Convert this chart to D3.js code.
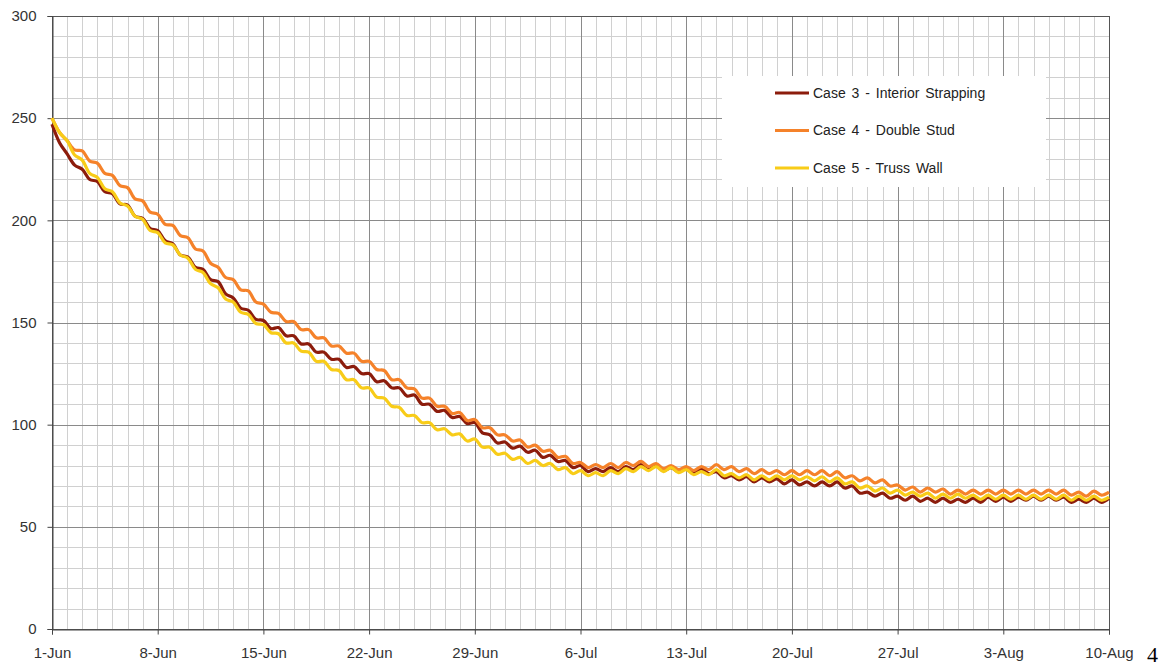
<!DOCTYPE html>
<html>
<head>
<meta charset="utf-8">
<title>Cases 3-5</title>
<script src="https://d3js.org/d3.v7.min.js"></script>
<style>
  body { margin: 0; background: #fff; }
  svg { display: block; font-family: "Liberation Sans", Arial, sans-serif; }
</style>
</head>
<body>
<script>
// values read every 12 hours, 1-Jun 00:00 to 10-Aug 00:00
var case3 = [
  247, 238, 232.5, 227, 225, 220, 219, 214, 213, 208,
  207.5, 202, 201, 196, 195, 190, 188.5, 183, 182, 177,
  176, 171, 170, 164, 162, 157, 156, 151.5, 151, 147,
  147.5, 143.5, 143.5, 139.5, 139.5, 135.5, 135.5, 132, 132, 128,
  128.5, 125, 125, 121, 121.5, 118, 118, 114, 114.5, 110,
  110, 106.5, 107, 103.5, 104, 100.5, 101, 96, 95, 91,
  91.5, 88.5, 89.5, 86.5, 87.5, 84, 85, 82, 82.5, 79,
  80, 77, 78.5, 77, 79, 77, 79.5, 78, 80.5, 78,
  80, 77.5, 79, 77, 78.5, 76.5, 78.5, 76, 77, 74,
  75, 73, 74.5, 72, 74, 72, 73.5, 71, 73, 70.5,
  72, 70, 72, 70, 72, 69, 70, 66.5, 67, 65,
  66.5, 64, 65, 63, 65, 62.5, 64, 62, 64, 62,
  63.5, 62, 64, 62, 64.5, 62.5, 64.5, 62.5, 64.5, 63,
  65, 63, 65, 63, 64.5, 62, 63.5, 62, 64, 62,
  64
];
var case4 = [
  250, 243, 239, 234.5, 234, 229, 228, 223, 222, 217,
  216, 210.5, 209.5, 204, 203, 198, 197.5, 192.5, 191.5, 186,
  185, 179, 177, 172, 171, 166, 165.5, 160, 159, 155,
  154.5, 150.5, 150.5, 146.5, 146.5, 142.5, 142.5, 138.5, 138.5, 135,
  135, 131, 131, 127, 126.5, 122, 122, 118, 117.5, 113,
  113, 109, 109, 105.5, 106, 102, 102.5, 98.5, 98.5, 95,
  95, 92, 92.5, 89, 90, 87, 87.5, 84, 84.5, 81,
  81.5, 79, 80.5, 79, 81, 79, 81.5, 80, 82, 79.5,
  81, 78.5, 80, 78, 79.5, 77.5, 79.5, 78, 80.5, 78,
  79.5, 77, 78.5, 76, 78, 76, 77.5, 75.5, 77.5, 75.5,
  77.5, 75.5, 77.5, 75, 77, 74, 75, 72.5, 74, 71.5,
  73, 70, 70.5, 68, 69.5, 67, 69, 67, 68.5, 66,
  68, 66, 68, 66, 68, 66, 68, 66, 68, 66,
  68, 66, 68, 66, 68, 65.5, 67, 65, 67.5, 65.5,
  67
];
var case5 = [
  250, 243, 239, 232, 229.5, 223, 221, 215.5, 214, 208.5,
  207, 202, 200.5, 195, 194, 189, 188, 183, 181.5, 176,
  174.5, 169, 167, 161.5, 160, 155, 154, 149.5, 149, 145,
  144.5, 140, 140, 136, 135.5, 131, 131, 127, 126.5, 122,
  122, 118, 118, 113.5, 113, 109, 108.5, 104.5, 104.5, 101,
  101, 97.5, 98, 95, 95.5, 92, 93, 89, 89, 85.5,
  86, 83, 84, 81, 82.5, 80, 81, 78, 79, 76,
  77.5, 75, 76.5, 75, 77.5, 76, 78.5, 77, 79.5, 77.5,
  79.5, 77, 79, 76.5, 78, 75.5, 77, 75.5, 78, 75,
  76, 74, 75.5, 73, 75, 73, 75, 73, 75, 73,
  74.5, 72.5, 74.5, 72, 74, 71, 72, 69, 70, 67.5,
  69, 66.5, 68, 65.5, 67, 65, 66.5, 64, 66, 64,
  66, 64, 65.5, 63.5, 65.5, 63.5, 65.5, 63.5, 65.5, 63.5,
  65.5, 63.5, 65.5, 63.5, 65.5, 63, 65, 63, 65, 63,
  64.5
];

var seriesNames = ["Case 3 - Interior Strapping", "Case 4 - Double Stud", "Case 5 - Truss Wall"];
var xTickLabels = ["1-Jun", "8-Jun", "15-Jun", "22-Jun", "29-Jun", "6-Jul", "13-Jul", "20-Jul", "27-Jul", "3-Aug", "10-Aug"];
var yTickLabels = [0, 50, 100, 150, 200, 250, 300];

var startDate = new Date(Date.UTC(2010, 5, 1));
var endDate = new Date(Date.UTC(2010, 7, 10));
var stepHours = 12;
var colors = ["#8c1c0c", "#f5822a", "#f8cc18"];

var width = 1175, height = 668;
var margin = {top: 16, right: 66, bottom: 39, left: 52};

var svg = d3.select("body").append("svg")
    .attr("width", width)
    .attr("height", height);

svg.append("rect").attr("width", width).attr("height", height).attr("fill", "#fff");

var x = d3.scaleUtc()
    .domain([startDate, endDate])
    .range([margin.left, width - margin.right]);

var y = d3.scaleLinear()
    .domain([0, 300])
    .range([height - margin.bottom, margin.top]);

function crisp(v) { return Math.round(v) + 0.5; }

var days = d3.utcDay.range(startDate, d3.utcDay.offset(endDate, 1));
var weeks = days.filter(function(d, i) { return i % 7 === 0; });

var grid = svg.append("g");

// minor grid
grid.selectAll(".vmin")
    .data(days)
    .enter().append("line")
    .attr("x1", function(d) { return crisp(x(d)); })
    .attr("x2", function(d) { return crisp(x(d)); })
    .attr("y1", y(300))
    .attr("y2", y(0))
    .attr("stroke", "#d0d0d0");

grid.selectAll(".hmin")
    .data(d3.range(0, 301, 10))
    .enter().append("line")
    .attr("x1", x(startDate))
    .attr("x2", x(endDate))
    .attr("y1", function(d) { return crisp(y(d)); })
    .attr("y2", function(d) { return crisp(y(d)); })
    .attr("stroke", "#d0d0d0");

// major grid
grid.selectAll(".vmaj")
    .data(weeks)
    .enter().append("line")
    .attr("x1", function(d) { return crisp(x(d)); })
    .attr("x2", function(d) { return crisp(x(d)); })
    .attr("y1", y(300))
    .attr("y2", y(0))
    .attr("stroke", "#8a8a8a");

grid.selectAll(".hmaj")
    .data(yTickLabels)
    .enter().append("line")
    .attr("x1", x(startDate))
    .attr("x2", x(endDate))
    .attr("y1", function(d) { return crisp(y(d)); })
    .attr("y2", function(d) { return crisp(y(d)); })
    .attr("stroke", "#8a8a8a");

// plot frame
svg.append("rect")
    .attr("x", crisp(x(startDate)))
    .attr("y", crisp(y(300)))
    .attr("width", Math.round(x(endDate)) - Math.round(x(startDate)))
    .attr("height", Math.round(y(0)) - Math.round(y(300)))
    .attr("fill", "none")
    .attr("stroke", "#555");

// axes
var xAxis = d3.axisBottom(x)
    .tickValues(weeks)
    .tickSize(5)
    .tickPadding(13)
    .tickFormat(function(d, i) { return xTickLabels[i]; });

var yAxis = d3.axisLeft(y)
    .tickValues(yTickLabels)
    .tickSize(5)
    .tickPadding(11)
    .tickFormat(d3.format("d"));

var gx = svg.append("g")
    .attr("transform", "translate(0," + crisp(y(0)) + ")")
    .call(xAxis);

var gy = svg.append("g")
    .attr("transform", "translate(" + crisp(x(startDate)) + ",0)")
    .call(yAxis);

[gx, gy].forEach(function(g) {
    g.select(".domain").attr("stroke", "#444");
    g.selectAll(".tick line").attr("stroke", "#444");
    g.selectAll(".tick text")
        .attr("font-family", "'Liberation Sans', Arial, sans-serif")
        .attr("font-size", 15)
        .attr("fill", "#333");
});

// series
var series = [case3, case4, case5];
var line = d3.line()
    .x(function(d, i) { return x(d3.utcHour.offset(startDate, i * stepHours)); })
    .y(function(d) { return y(d); })
    .curve(d3.curveCatmullRom.alpha(0.5));

svg.append("g").selectAll("path")
    .data(series)
    .enter().append("path")
    .attr("d", line)
    .attr("fill", "none")
    .attr("stroke", function(d, i) { return colors[i]; })
    .attr("stroke-width", 3.2)
    .attr("stroke-linejoin", "round");

// legend
var legend = svg.append("g");
legend.append("rect")
    .attr("x", 722)
    .attr("y", 76)
    .attr("width", 324)
    .attr("height", 111)
    .attr("fill", "#fff");

var item = legend.selectAll(".item")
    .data(seriesNames)
    .enter().append("g")
    .attr("transform", function(d, i) { return "translate(775," + (93 + i * 37.5) + ")"; });

item.append("line")
    .attr("x1", 0)
    .attr("x2", 34)
    .attr("stroke", function(d, i) { return colors[i]; })
    .attr("stroke-width", 3.2);

item.append("text")
    .attr("x", 38)
    .attr("dy", "0.35em")
    .attr("font-size", 14)
    .attr("word-spacing", 2)
    .attr("fill", "#222")
    .text(function(d) { return d; });

// page number at lower right
svg.append("text")
    .attr("x", 1147)
    .attr("y", 662)
    .attr("font-family", "'Liberation Serif', 'DejaVu Serif', serif")
    .attr("font-size", 22)
    .attr("fill", "#000")
    .text("4");
</script>
</body>
</html>
